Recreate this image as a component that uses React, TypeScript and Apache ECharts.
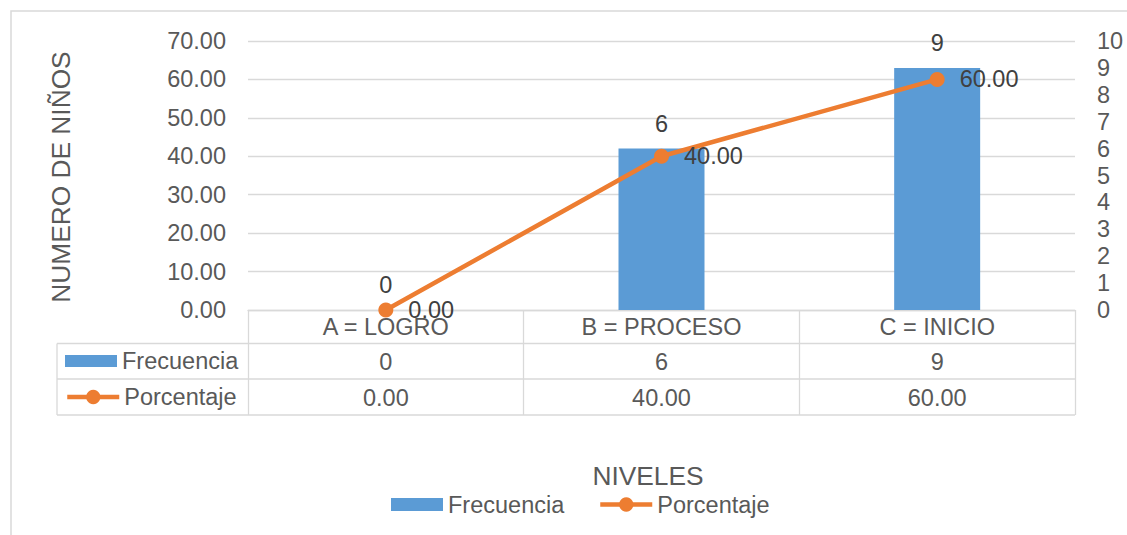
import React, { useEffect, useRef } from 'react';
import * as echarts from 'echarts';

const categorias = ['A = LOGRO', 'B = PROCESO', 'C = INICIO'];
const frecuencia = [0, 6, 9];
const porcentaje = [0, 40, 60];
const serieFrec = 'Frecuencia';
const seriePorc = 'Porcentaje';
const ejeIzqMin = 0;
const ejeIzqMax = 70;
const ejeIzqPaso = 10;
const ejeDerMin = 0;
const ejeDerMax = 10;
const ejeDerPaso = 1;
const tituloY = 'NUMERO DE NIÑOS';
const tituloX = 'NIVELES';

const FONT = '"Liberation Sans", Arial, sans-serif';
const GRAY = '#595959';
const DARK = '#404040';
const LINEC = '#D9D9D9';
const BLUE = '#5B9BD5';
const ORANGE = '#ED7D31';
const FS = 23.5;
const FT = 26.3;

export default function App() {
  const ref = useRef<HTMLDivElement>(null);
  useEffect(() => {
    const chart = echarts.init(ref.current as HTMLDivElement, null, { renderer: 'svg' });
    const gridBase = { left: 248, right: 52, top: 41, bottom: 225, containLabel: false };
    const hiddenY = (i: number) => ({ type: 'value', gridIndex: i, show: false });
    const tableAxis = (i: number, data: string[], margin: number) => ({
      type: 'category',
      gridIndex: i,
      data,
      position: 'bottom',
      axisLine: { show: false },
      axisTick: { show: false },
      splitLine: { show: false },
      axisLabel: { margin, fontSize: FS, color: GRAY, fontFamily: FONT, interval: 0 },
    });
    const legendBase = {
      orient: 'horizontal',
      padding: 0,
      itemWidth: 52,
      selectedMode: false,
      textStyle: { fontSize: FS, color: GRAY, fontFamily: FONT },
      lineStyle: { width: 4.5 },
    };
    const option: any = {
      animation: false,
      backgroundColor: '#ffffff',
      textStyle: { fontFamily: FONT },
      grid: [gridBase, { ...gridBase }, { ...gridBase }],
      xAxis: [
        {
          type: 'category',
          gridIndex: 0,
          data: categorias,
          position: 'bottom',
          axisLine: { show: true, lineStyle: { color: LINEC, width: 1.3 } },
          axisTick: { show: true, length: 105, interval: 0, alignWithLabel: false, lineStyle: { color: LINEC, width: 1.3 } },
          axisLabel: { margin: 5, fontSize: FS, color: GRAY, fontFamily: FONT, interval: 0 },
        },
        tableAxis(1, frecuencia.map((v) => String(v)), 40),
        tableAxis(2, porcentaje.map((v) => v.toFixed(2)), 76),
      ],
      yAxis: [
        {
          type: 'value',
          gridIndex: 0,
          position: 'left',
          min: ejeIzqMin,
          max: ejeIzqMax,
          interval: ejeIzqPaso,
          axisLine: { show: false },
          axisTick: { show: false },
          splitLine: { show: true, lineStyle: { color: LINEC, width: 1.3 } },
          axisLabel: { margin: 22, fontSize: FS, color: GRAY, fontFamily: FONT, formatter: (v: number) => v.toFixed(2) },
        },
        {
          type: 'value',
          gridIndex: 0,
          position: 'right',
          min: ejeDerMin,
          max: ejeDerMax,
          interval: ejeDerPaso,
          axisLine: { show: false },
          axisTick: { show: false },
          splitLine: { show: false },
          axisLabel: { margin: 22, fontSize: FS, color: GRAY, fontFamily: FONT },
        },
        hiddenY(1),
        hiddenY(2),
      ],
      legend: [
        { ...legendBase, data: [{ name: serieFrec, icon: 'rect' }], left: 65, top: 349, itemHeight: 12 },
        { ...legendBase, data: [seriePorc], left: 65, top: 385, itemHeight: 18 },
        { ...legendBase, data: [{ name: serieFrec, icon: 'rect' }], left: 391, top: 492.5, itemHeight: 13 },
        { ...legendBase, data: [seriePorc], left: 598, top: 492.5, itemHeight: 18 },
      ],
      graphic: [
        {
          type: 'rect',
          shape: { x: 11, y: 11, width: 1200, height: 600 },
          style: { fill: 'none', stroke: LINEC, lineWidth: 1.5 },
          silent: true,
          z: -1,
        },
        { type: 'line', shape: { x1: 57, y1: 343.5, x2: 1075, y2: 343.5 }, style: { stroke: LINEC, lineWidth: 1.3 }, silent: true },
        { type: 'line', shape: { x1: 57, y1: 379, x2: 1075, y2: 379 }, style: { stroke: LINEC, lineWidth: 1.3 }, silent: true },
        { type: 'line', shape: { x1: 57, y1: 415, x2: 1075, y2: 415 }, style: { stroke: LINEC, lineWidth: 1.3 }, silent: true },
        { type: 'line', shape: { x1: 57, y1: 343.5, x2: 57, y2: 415 }, style: { stroke: LINEC, lineWidth: 1.3 }, silent: true },
        {
          type: 'text',
          x: 61,
          y: 177,
          rotation: Math.PI / 2,
          style: { text: tituloY, align: 'center', verticalAlign: 'middle', fontSize: FT, fill: GRAY, fontFamily: FONT },
          silent: true,
        },
        {
          type: 'text',
          x: 648,
          y: 476,
          style: { text: tituloX, align: 'center', verticalAlign: 'middle', fontSize: FT, fill: GRAY, fontFamily: FONT },
          silent: true,
        },
      ],
      series: [
        {
          name: serieFrec,
          type: 'bar',
          xAxisIndex: 0,
          yAxisIndex: 1,
          data: frecuencia,
          barWidth: 86,
          itemStyle: { color: BLUE },
          label: { show: true, position: 'top', distance: 13, fontSize: FS, color: DARK, fontFamily: FONT },
          z: 2,
        },
        {
          name: seriePorc,
          type: 'line',
          xAxisIndex: 0,
          yAxisIndex: 0,
          data: porcentaje,
          symbol: 'circle',
          symbolSize: 15,
          lineStyle: { color: ORANGE, width: 4.5 },
          itemStyle: { color: ORANGE },
          label: {
            show: true,
            position: 'right',
            distance: 15,
            fontSize: FS,
            color: DARK,
            fontFamily: FONT,
            formatter: (p: any) => Number(p.value).toFixed(2),
          },
          z: 3,
        },
      ],
    };
    chart.setOption(option);
    return () => chart.dispose();
  }, []);
  return (
    <div
      ref={ref}
      style={{ position: 'absolute', left: 0, top: 0, width: 1127, height: 535, background: '#ffffff' }}
    />
  );
}
